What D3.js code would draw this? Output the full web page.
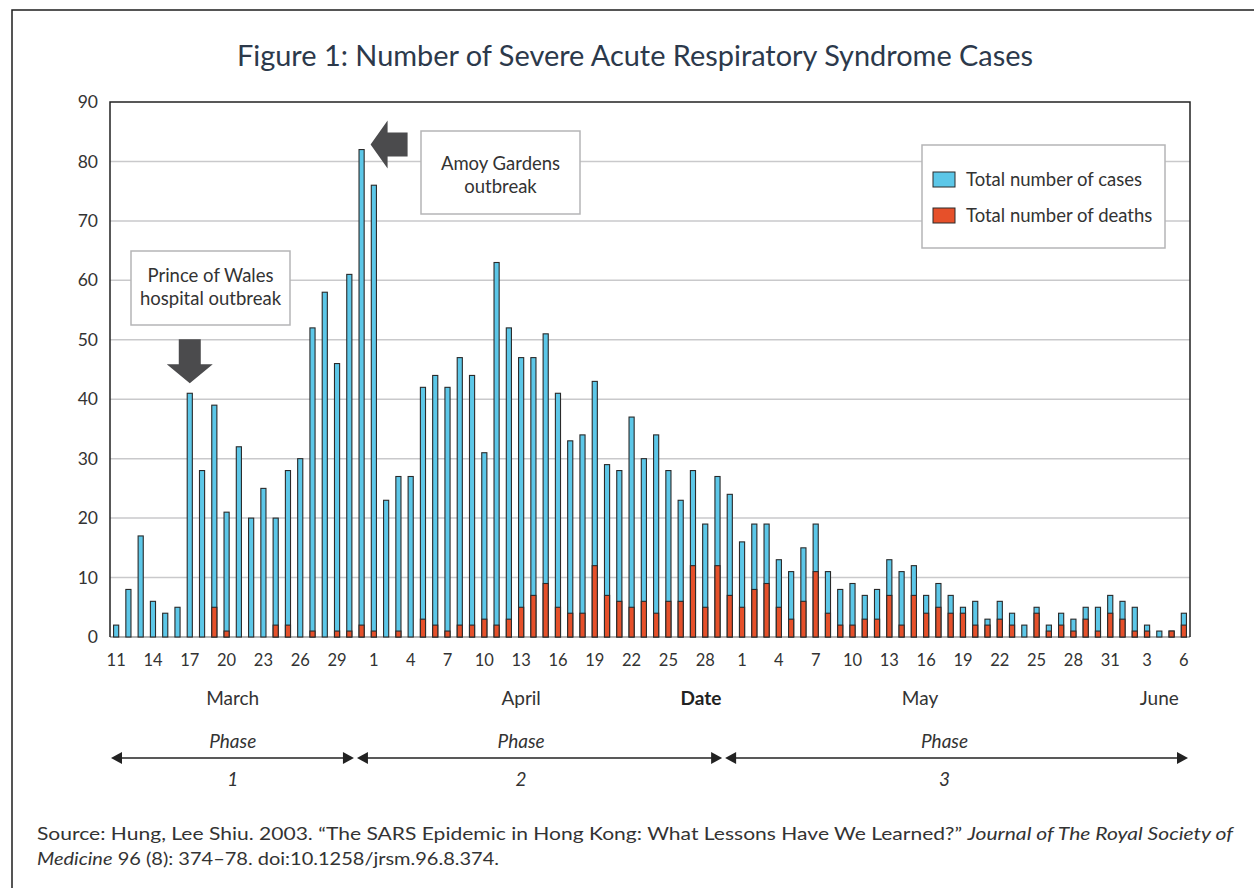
<!DOCTYPE html>
<html>
<head>
<meta charset="utf-8">
<script src="https://cdn.jsdelivr.net/npm/d3@7"></script>
<style>
  html, body { margin: 0; padding: 0; background: #fff; }
  svg { display: block; }
  text { font-family: Lato, "Open Sans", sans-serif; }
</style>
</head>
<body>
<svg id="chart" width="1254" height="888"></svg>
<script>
// ---------- DATA ----------
const dates = [
  "Mar 11","Mar 12","Mar 13","Mar 14","Mar 15","Mar 16","Mar 17","Mar 18","Mar 19","Mar 20","Mar 21","Mar 22","Mar 23","Mar 24","Mar 25","Mar 26","Mar 27","Mar 28","Mar 29","Mar 30","Mar 31",
  "Apr 1","Apr 2","Apr 3","Apr 4","Apr 5","Apr 6","Apr 7","Apr 8","Apr 9","Apr 10","Apr 11","Apr 12","Apr 13","Apr 14","Apr 15","Apr 16","Apr 17","Apr 18","Apr 19","Apr 20","Apr 21","Apr 22","Apr 23","Apr 24","Apr 25","Apr 26","Apr 27","Apr 28","Apr 29","Apr 30",
  "May 1","May 2","May 3","May 4","May 5","May 6","May 7","May 8","May 9","May 10","May 11","May 12","May 13","May 14","May 15","May 16","May 17","May 18","May 19","May 20","May 21","May 22","May 23","May 24","May 25","May 26","May 27","May 28","May 29","May 30","May 31",
  "Jun 1","Jun 2","Jun 3","Jun 4","Jun 5","Jun 6"
];
const cases = [
  2,8,17,6,4,5,41,28,39,21,32,20,25,20,28,30,52,58,46,61,82,
  76,23,27,27,42,44,42,47,44,31,63,52,47,47,51,41,33,34,43,29,28,37,30,34,28,23,28,19,27,24,
  16,19,19,13,11,15,19,11,8,9,7,8,13,11,12,7,9,7,5,6,3,6,4,2,5,2,4,3,5,5,7,
  6,5,2,1,1,4
];
const deaths = [
  0,0,0,0,0,0,0,0,5,1,0,0,0,2,2,0,1,0,1,1,2,
  1,0,1,0,3,2,1,2,2,3,2,3,5,7,9,5,4,4,12,7,6,5,6,4,6,6,12,5,12,7,
  5,8,9,5,3,6,11,4,2,2,3,3,7,2,7,4,5,4,4,2,2,3,2,0,4,1,2,1,3,1,4,
  3,1,1,0,1,2
];
const yTicks = [0,10,20,30,40,50,60,70,80,90];
const tickDates = dates.filter((d, i) => i % 3 === 0);
const months = [
  {label: "March", at: ["Mar 20", "Mar 21"]},
  {label: "April", at: ["Apr 13", "Apr 13"]},
  {label: "May", at: ["May 15", "May 16"]},
  {label: "June", at: ["Jun 4", "Jun 4"]}
];
const phases = [
  {label: "1", start: "Mar 11", end: "Mar 30", at: ["Mar 20", "Mar 21"]},
  {label: "2", start: "Mar 31", end: "Apr 29", at: ["Apr 13", "Apr 13"]},
  {label: "3", start: "Apr 30", end: "Jun 6", at: ["May 17", "May 18"]}
];
const seriesNames = ["Total number of cases", "Total number of deaths"];
const annotations = [
  {lines: ["Prince of Wales", "hospital outbreak"], date: "Mar 17", value: 41, dir: "down"},
  {lines: ["Amoy Gardens", "outbreak"], date: "Mar 31", value: 82, dir: "left"}
];

// ---------- LAYOUT ----------
const W = 1254, H = 888;
const plot = {left: 110, right: 1190, top: 102, bottom: 637};
const blue = "#5cc7e8", red = "#e6502a", dark = "#2a2a2a";

const svg = d3.select("#chart");

// outer frame
svg.append("rect").attr("x", 12).attr("y", 10).attr("width", W).attr("height", H)
  .attr("fill", "none").attr("stroke", "#1e1e1e").attr("stroke-width", 1.5);

const x = d3.scaleBand().domain(dates).range([plot.left, plot.right])
  .paddingInner(0.5).paddingOuter(0.25);
const y = d3.scaleLinear().domain([0, 90]).range([plot.bottom, plot.top]);

// title
svg.append("text").attr("x", 635).attr("y", 66).attr("text-anchor", "middle")
  .attr("font-size", 29).attr("fill", "#2c394b")
  .attr("textLength", 796).attr("lengthAdjust", "spacingAndGlyphs")
  .text("Figure 1: Number of Severe Acute Respiratory Syndrome Cases");

// gridlines
svg.append("g").selectAll("line").data(yTicks.filter(t => t > 0 && t < 90)).join("line")
  .attr("x1", plot.left).attr("x2", plot.right)
  .attr("y1", d => y(d)).attr("y2", d => y(d))
  .attr("stroke", "#c9c9cb").attr("stroke-width", 1.5);

// y axis labels
const yAxis = d3.axisLeft(y).tickValues(yTicks).tickSize(0).tickPadding(12);
const gy = svg.append("g").attr("transform", `translate(${plot.left},0)`).call(yAxis);
gy.select(".domain").remove();
gy.selectAll("text").attr("font-size", 17.5).attr("fill", "#333")
  .attr("font-family", "Lato, sans-serif");

// bottom baseline
svg.append("line").attr("x1", plot.left).attr("x2", plot.right)
  .attr("y1", y(0)).attr("y2", y(0)).attr("stroke", "#9a9a9a").attr("stroke-width", 1.5);

// bars: cases
const bw = x.bandwidth();
svg.append("g").selectAll("rect").data(dates).join("rect")
  .attr("x", d => x(d) + 0.5).attr("width", bw - 1)
  .attr("y", (d, i) => y(cases[i])).attr("height", (d, i) => y(0) - y(cases[i]))
  .attr("fill", blue).attr("stroke", dark).attr("stroke-width", 1.1);
// bars: deaths
svg.append("g").selectAll("rect").data(dates.filter((d, i) => deaths[i] > 0)).join("rect")
  .attr("x", d => x(d) + 0.5).attr("width", bw - 1)
  .attr("y", d => y(deaths[dates.indexOf(d)]))
  .attr("height", d => y(0) - y(deaths[dates.indexOf(d)]))
  .attr("fill", red).attr("stroke", dark).attr("stroke-width", 1.1);

// plot frame (top, left, right)
svg.append("path")
  .attr("d", `M${plot.left},${plot.bottom}V${plot.top}H${plot.right}V${plot.bottom}`)
  .attr("fill", "none").attr("stroke", "#222").attr("stroke-width", 1.5);

// x axis tick labels
const xAxis = d3.axisBottom(x).tickValues(tickDates).tickSize(0).tickPadding(17)
  .tickFormat(d => d.split(" ")[1]);
const gx = svg.append("g").attr("transform", `translate(0,${plot.bottom})`).call(xAxis);
gx.select(".domain").remove();
gx.selectAll("text").attr("font-size", 16.5).attr("fill", "#333")
  .attr("font-family", "Lato, sans-serif");

const cx = d => x(d) + bw / 2;
const cxPair = p => (cx(p[0]) + cx(p[1])) / 2;

// month labels
svg.append("g").selectAll("text").data(months).join("text")
  .attr("x", d => cxPair(d.at)).attr("y", 705).attr("text-anchor", "middle")
  .attr("font-size", 19).attr("fill", "#333").text(d => d.label);
svg.append("text").attr("x", 701).attr("y", 705).attr("text-anchor", "middle")
  .attr("font-size", 19).attr("font-weight", "bold").attr("fill", "#222").text("Date");

// phases
const step = x.step();
const pStart = d => x(d) - step * x.paddingInner() / 2;
const pEnd = d => x(d) + bw + step * x.paddingInner() / 2;
const lineY = 758;
const pg = svg.append("g");
phases.forEach((p, i) => {
  let x0 = i === 0 ? plot.left + 1 : pStart(p.start) + 1.5;
  let x1 = i === phases.length - 1 ? plot.right - 2 : pEnd(p.end) - 1.5;
  pg.append("line").attr("x1", x0 + 4).attr("x2", x1 - 4).attr("y1", lineY).attr("y2", lineY)
    .attr("stroke", "#222").attr("stroke-width", 1.4);
  pg.append("path").attr("d", `M${x0},${lineY}L${x0 + 11},${lineY - 6}L${x0 + 11},${lineY + 6}Z`).attr("fill", "#222");
  pg.append("path").attr("d", `M${x1},${lineY}L${x1 - 11},${lineY - 6}L${x1 - 11},${lineY + 6}Z`).attr("fill", "#222");
  const mid = cxPair(p.at);
  pg.append("text").attr("x", mid).attr("y", 748).attr("text-anchor", "middle")
    .attr("font-size", 19).attr("font-style", "italic").attr("fill", "#333").text("Phase");
  pg.append("text").attr("x", mid).attr("y", 786).attr("text-anchor", "middle")
    .attr("font-size", 19).attr("font-style", "italic").attr("fill", "#333").text(p.label);
});

// legend
const lg = svg.append("g");
lg.append("rect").attr("x", 922).attr("y", 145).attr("width", 243).attr("height", 103)
  .attr("fill", "#fff").attr("stroke", "#b5b5b7").attr("stroke-width", 1.5);
[blue, red].forEach((c, i) => {
  lg.append("rect").attr("x", 933).attr("y", 172 + i * 36).attr("width", 22).attr("height", 15)
    .attr("fill", c).attr("stroke", dark).attr("stroke-width", 1);
  lg.append("text").attr("x", 966).attr("y", 186 + i * 36).attr("font-size", 18.5)
    .attr("fill", "#333").text(seriesNames[i]);
});

// annotations
const arrowFill = "#4b4b4d";
const ag = svg.append("g");
// Prince of Wales box + down arrow
{
  const a = annotations[0];
  const ax = cx(a.date);
  ag.append("rect").attr("x", 131).attr("y", 251).attr("width", 159).attr("height", 74)
    .attr("fill", "#fff").attr("stroke", "#b5b5b7").attr("stroke-width", 1.5);
  a.lines.forEach((l, i) => ag.append("text").attr("x", 210.5).attr("y", 282 + i * 23)
    .attr("text-anchor", "middle").attr("font-size", 18.5).attr("fill", "#333").text(l));
  const tip = y(a.value) - 10;
  ag.append("path").attr("d",
    `M${ax - 11},${tip - 44}H${ax + 11}V${tip - 19}H${ax + 23}L${ax},${tip}L${ax - 23},${tip - 19}H${ax - 11}Z`)
    .attr("fill", arrowFill);
}
// Amoy Gardens box + left arrow
{
  const a = annotations[1];
  const ax = cx(a.date) + 9;
  ag.append("rect").attr("x", 421).attr("y", 131).attr("width", 159).attr("height", 83)
    .attr("fill", "#fff").attr("stroke", "#b5b5b7").attr("stroke-width", 1.5);
  a.lines.forEach((l, i) => ag.append("text").attr("x", 500.5).attr("y", 170 + i * 23)
    .attr("text-anchor", "middle").attr("font-size", 18.5).attr("fill", "#333").text(l));
  const ty = y(a.value) - 5;
  ag.append("path").attr("d",
    `M${ax},${ty}L${ax + 17},${ty - 24}V${ty - 12}H${ax + 37}V${ty + 12}H${ax + 17}V${ty + 24}Z`)
    .attr("fill", arrowFill);
}

// source
const src = svg.append("g").attr("fill", "#333").attr("font-family", "'Open Sans', Lato, sans-serif");
const t1 = src.append("text").attr("x", 37).attr("y", 840).attr("font-size", 17.5)
  .attr("font-family", "'Open Sans', sans-serif")
  .attr("textLength", 1196).attr("lengthAdjust", "spacingAndGlyphs");
t1.append("tspan").text("Source: Hung, Lee Shiu. 2003. \u201CThe SARS Epidemic in Hong Kong: What Lessons Have We Learned?\u201D ");
t1.append("tspan").attr("font-style", "italic").text("Journal of The Royal Society of");
const t2 = src.append("text").attr("x", 37).attr("y", 865).attr("font-size", 17.5)
  .attr("font-family", "'Open Sans', sans-serif")
  .attr("textLength", 462).attr("lengthAdjust", "spacingAndGlyphs");
t2.append("tspan").attr("font-style", "italic").text("Medicine");
t2.append("tspan").text(" 96 (8): 374\u201378. doi:10.1258/jrsm.96.8.374.");
</script>
</body>
</html>
